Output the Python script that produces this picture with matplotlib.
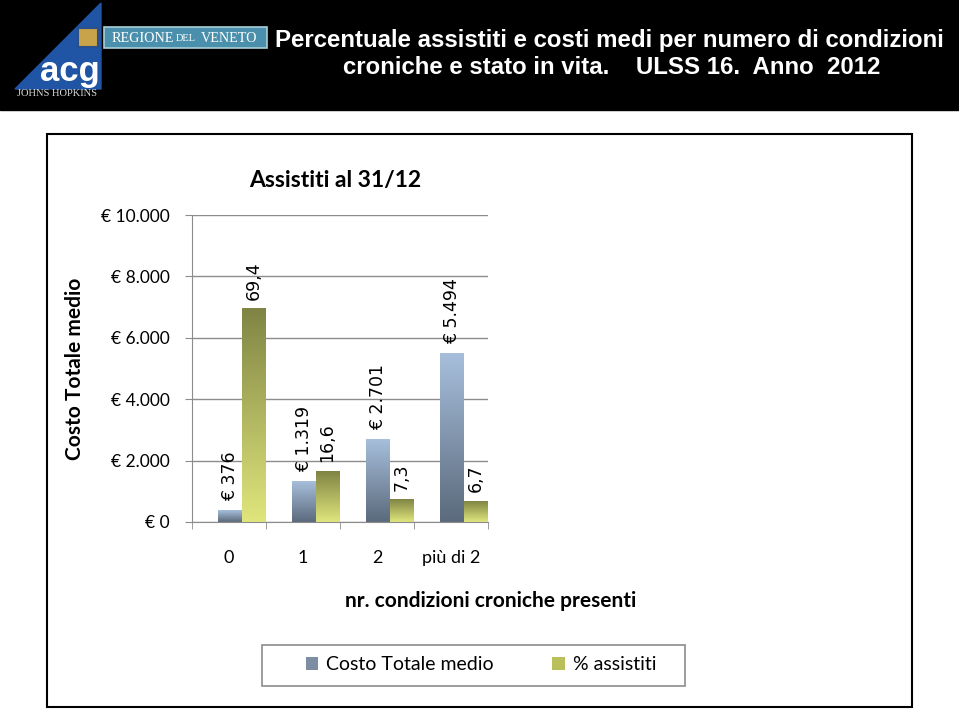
import numpy as np
import matplotlib
matplotlib.use("Agg")
import matplotlib.pyplot as plt
from matplotlib.colors import LinearSegmentedColormap
from matplotlib.patches import Rectangle, Polygon, Patch

categorie = ["0", "1", "2", "più di 2"]
costo_medio = [376, 1319, 2701, 5494]
perc_assistiti = [69.4, 16.6, 7.3, 6.7]
y_ticks = [0, 2000, 4000, 6000, 8000, 10000]

W, H = 959, 709

def fx(x):
    return x / W

def fy(y):
    return 1 - y / H

def euro(v):
    return "€ " + f"{v:,.0f}".replace(",", ".")

def virgola(v):
    return f"{v:.1f}".replace(".", ",")

cmap_blu = LinearSegmentedColormap.from_list("blu", ["#5b6a7c", "#a7bfdc"])
cmap_verde = LinearSegmentedColormap.from_list("verde", ["#e0e67c", "#7f8444"])
testo = "Lato"

fig = plt.figure(figsize=(W / 100, H / 100), dpi=100)
fig.patch.set_facecolor("white")

# fascia nera in alto con loghi e titolo
fig.add_artist(Rectangle((0, fy(110)), 1, 110 / H, transform=fig.transFigure,
                         color="black", zorder=0))
fig.add_artist(Polygon([(fx(15), fy(89)), (fx(101), fy(3)), (fx(101), fy(89))],
                       transform=fig.transFigure, color="#1f55a4", zorder=1))
fig.add_artist(Rectangle((fx(78), fy(47)), 20 / W, 19 / H, transform=fig.transFigure,
                         facecolor="#c9a34a", edgecolor="#2a4f8a", lw=1.5, zorder=2))
fig.text(fx(70), fy(71), "acg", color="white", fontsize=25, fontweight="bold",
         family="Liberation Sans", ha="center", va="center", zorder=3)
fig.text(fx(57), fy(94), "JOHNS HOPKINS", color="#d8d8d8", fontsize=7.6,
         family="Liberation Serif", ha="center", va="center", zorder=3)
fig.add_artist(Rectangle((fx(104), fy(48)), 163 / W, 21 / H, transform=fig.transFigure,
                         facecolor="#4a8fab", edgecolor="#a8cfd8", lw=1.2, zorder=2))
fig.text(fx(112), fy(38), "REGIONE", color="white", fontsize=10.2, family="Liberation Serif",
         ha="left", va="center", zorder=3)
fig.text(fx(176), fy(38.5), "DEL", color="white", fontsize=7.5, family="Liberation Serif",
         ha="left", va="center", zorder=3)
fig.text(fx(201), fy(38), "VENETO", color="white", fontsize=10.2, family="Liberation Serif",
         ha="left", va="center", zorder=3)

fig.text(fx(609), fy(40), "Percentuale assistiti e costi medi per numero di condizioni",
         color="white", fontsize=17.3, fontweight="bold",
         family="Liberation Sans", ha="center", va="center")
fig.text(fx(612), fy(68), "croniche e stato in vita.    ULSS 16.  Anno  2012",
         color="white", fontsize=17.3, fontweight="bold",
         family="Liberation Sans", ha="center", va="center")

# cornice del grafico
fig.add_artist(Rectangle((fx(47), fy(707)), 865 / W, 573 / H, transform=fig.transFigure,
                         facecolor="none", edgecolor="black", lw=1.5))

ax = fig.add_axes([fx(192), fy(522), (488 - 192) / W, (522 - 215) / H])
x = np.arange(len(categorie))
larg = 0.324
barre_costo = ax.bar(x - 0.155, costo_medio, width=larg, align="edge", color="none")
barre_perc = ax.bar(x + 0.17, [p * 100 for p in perc_assistiti], width=larg,
                    align="edge", color="none")

grad = np.linspace(0, 1, 256).reshape(-1, 1)
for barre, cmap, valori, fmt in [(barre_costo, cmap_blu, costo_medio, euro),
                                  (barre_perc, cmap_verde, perc_assistiti, virgola)]:
    for r, v in zip(barre, valori):
        x0, w, h = r.get_x(), r.get_width(), r.get_height()
        ax.imshow(grad, extent=[x0, x0 + w, 0, h], origin="lower", aspect="auto",
                  cmap=cmap, zorder=2)
        ax.annotate(fmt(v), xy=(x0 + w / 2, h), xytext=(0, 6.5), textcoords="offset points",
                    rotation=90, ha="center", va="bottom", fontsize=12.5,
                    family="DejaVu Sans", color="black")

ax.set_xlim(-0.5, 3.5)
ax.set_ylim(0, 10000)
ax.set_yticks(y_ticks)
ax.set_yticklabels([euro(v) for v in y_ticks], family=testo, fontsize=12.5)
ax.set_xticks(x)
ax.set_xticklabels(categorie, family=testo, fontsize=13)
ax.set_xticks(np.arange(-0.5, 4, 1), minor=True)
ax.tick_params(axis="x", which="major", length=0, pad=20)
ax.tick_params(axis="x", which="minor", length=5, color="#8c8c8c")
ax.tick_params(axis="y", length=5, color="#8c8c8c", pad=11)
ax.yaxis.grid(True, color="#8c8c8c", lw=1)
ax.set_axisbelow(True)
for s in ["top", "right"]:
    ax.spines[s].set_visible(False)
for s in ["left", "bottom"]:
    ax.spines[s].set_color("#8c8c8c")
ax.set_facecolor("white")

ax.set_ylabel("Costo Totale medio", family=testo, fontsize=15, fontweight="bold")
ax.yaxis.set_label_coords((85 - 192) / 296, 0.5)
ax.set_xlabel("nr. condizioni croniche presenti", family=testo, fontsize=15, fontweight="bold")
ax.xaxis.set_label_coords((491 - 192) / 296, (522 - 591) / 307)
ax.text((335 - 192) / 296, (522 - 180) / 307, "Assistiti al 31/12", transform=ax.transAxes,
        family=testo, fontsize=16.5, fontweight="bold", ha="center", va="center")

# legenda
fig.add_artist(Rectangle((fx(262), fy(686)), 423 / W, 41 / H, transform=fig.transFigure,
                         facecolor="white", edgecolor="#8c8c8c", lw=1.2))
handles = [Patch(facecolor="#7d8ea3", label="Costo Totale medio"),
           Patch(facecolor="#b9bf5a", label="% assistiti")]
fig.legend(handles=handles, loc="center", bbox_to_anchor=(fx(481), fy(665)), ncol=2,
           frameon=False, prop={"family": testo, "size": 14}, handlelength=0.65,
           handleheight=0.65, handletextpad=0.4, columnspacing=3.0)

fig.savefig("out.png", dpi=100)
